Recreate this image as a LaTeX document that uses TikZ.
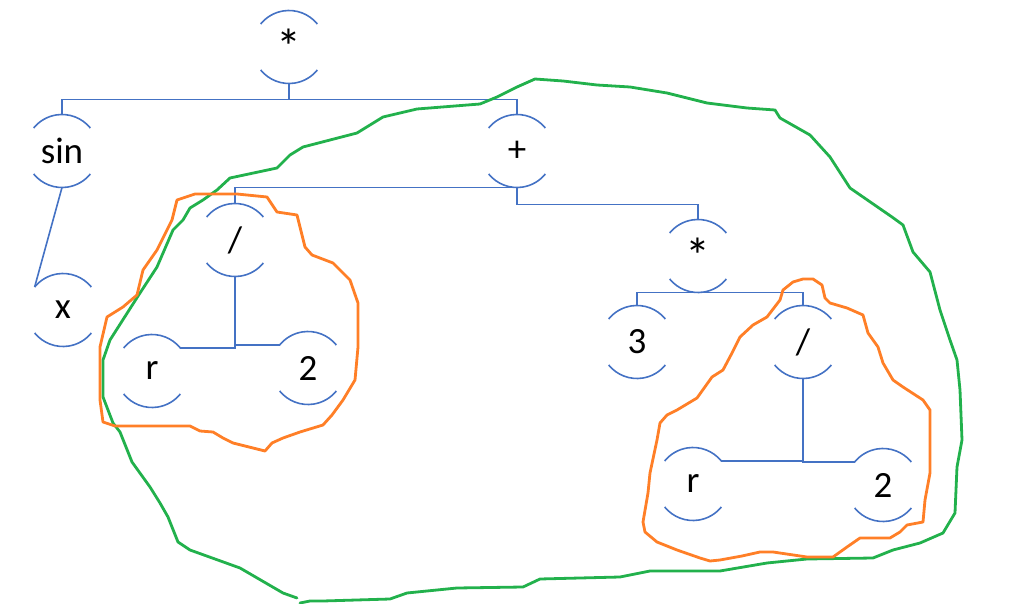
\documentclass[tikz,border=0pt]{standalone}
\usepackage{fontspec}
\setmainfont{Carlito}
\definecolor{treeblue}{HTML}{4472C4}
\definecolor{blobgreen}{HTML}{22B14C}
\definecolor{bloborange}{HTML}{FF7F27}
\begin{document}
\begin{tikzpicture}[x=1pt,y=-1pt,
  tnode/.style={circle,minimum size=73pt,inner sep=0pt,outer sep=0pt,font=\fontsize{37}{40}\selectfont},
  startext/.style={font=\fontsize{50}{50}\selectfont},
  arcline/.style={draw=treeblue,line width=1.6pt},
  tree/.style={draw=treeblue,line width=1.6pt},
  greenblob/.style={draw=blobgreen,line width=2.8pt,line join=round,line cap=round},
  orangeblob/.style={draw=bloborange,line width=2.8pt,line join=round,line cap=round}]
\useasboundingbox (0,0) rectangle (1026,604);
\node[tnode,startext] (top)   at (289,47)  {*};
\node[tnode] (sin)   at (62,151)  {sin};
\node[tnode] (plus)  at (517,151) {+};
\node[tnode] (x)     at (63,310)  {x};
\node[tnode] (div1)  at (235,240) {/};
\node[tnode] (r1)    at (152,371) {r};
\node[tnode] (two1)  at (308,368) {2};
\node[tnode,startext] (mul2)  at (698,256) {*};
\node[tnode] (three) at (637,342) {3};
\node[tnode] (div2)  at (803,342) {/};
\node[tnode] (r2)    at (693,484) {r};
\node[tnode] (two2)  at (883,485) {2};
\foreach \n in {top,sin,plus,x,div1,r1,two1,mul2,three,div2,r2,two2}{
  \draw[arcline] (\n.39) arc[start angle=39,end angle=141,radius=36.5pt];
  \draw[arcline] (\n.219) arc[start angle=219,end angle=321,radius=36.5pt];
}
% connectors
\draw[tree] (top.south) -- ++(0,16);
\draw[tree] (sin.north) |- ([yshift=-16pt]top.south) -| (plus.north);
\draw[tree] (sin.south) -- (x.141);
\draw[tree] (plus.south) -| (div1.north);
\draw[tree] (plus.south) -- ++(0,17) -| (mul2.north);
\draw[tree] (r1.39) -| (div1.south);
\draw[tree] (two1.141) -| (div1.south);
\draw[tree] (three.north) |- (mul2.south) -| (div2.north);
\draw[tree] (r2.39) -| (div2.south);
\draw[tree] (two2.141) -| (div2.south);
% green blob
\draw[greenblob] (297,598) -- (283,593) -- (240,568) -- (190,550) -- (178,542) -- (168,517) -- (160,503) -- (150,487) -- (132,462) -- (120,432) -- (113,423) -- (103,397) -- (103,360) -- (110,340) -- (140,293) -- (157,267) -- (173,230) -- (183,220) -- (190,208) -- (203,200) -- (217,190) -- (230,178) -- (277,168) -- (290,155) -- (303,147) -- (357,133) -- (383,117) -- (417,109) -- (480,104) -- (497,97) -- (517,87) -- (535,79) -- (563,81) -- (597,85) -- (630,87) -- (667,93) -- (707,103) -- (747,108) -- (775,110) -- (780,118) -- (810,135) -- (830,157) -- (850,188) -- (892,217) -- (903,225) -- (913,252) -- (930,272) -- (940,310) -- (950,340) -- (957,360) -- (960,390) -- (962,440) -- (957,467) -- (955,513) -- (943,533) -- (920,543) -- (893,550) -- (873,558) -- (807,559) -- (767,563) -- (720,571) -- (650,571) -- (620,577) -- (540,579) -- (523,587) -- (457,588) -- (407,593) -- (390,599) -- (323,601) -- (310,601) -- (300,603);
% orange blob left
\draw[orangeblob] (177,200) -- (195,194) -- (237,194) -- (267,197) -- (277,212) -- (297,215) -- (305,247) -- (312,255) -- (333,263) -- (350,280) -- (358,303) -- (358,347) -- (355,380) -- (343,400) -- (332,415) -- (323,425) -- (300,432) -- (283,438) -- (272,443) -- (265,451) -- (253,448) -- (233,443) -- (223,438) -- (213,432) -- (200,431) -- (190,426) -- (115,426) -- (103,422) -- (100,400) -- (100,347) -- (107,317) -- (123,307) -- (137,295) -- (143,270) -- (157,250) -- (172,220) -- cycle;
% orange blob right
\draw[orangeblob] (813,279) -- (822,285) -- (825,298) -- (830,303) -- (847,308) -- (863,315) -- (868,333) -- (878,347) -- (883,363) -- (893,380) -- (903,387) -- (923,400) -- (930,410) -- (930,473) -- (925,500) -- (923,522) -- (907,525) -- (900,532) -- (890,538) -- (860,538) -- (847,547) -- (833,557) -- (807,557) -- (773,552) -- (760,552) -- (742,556) -- (720,560) -- (710,561) -- (700,558) -- (677,550) -- (657,542) -- (645,532) -- (643,522) -- (648,493) -- (650,473) -- (657,440) -- (660,423) -- (667,415) -- (677,410) -- (697,398) -- (712,377) -- (723,370) -- (732,353) -- (740,337) -- (753,325) -- (767,317) -- (780,300) -- (783,290) -- (793,282) -- (803,279) -- cycle;
\end{tikzpicture}
\end{document}
